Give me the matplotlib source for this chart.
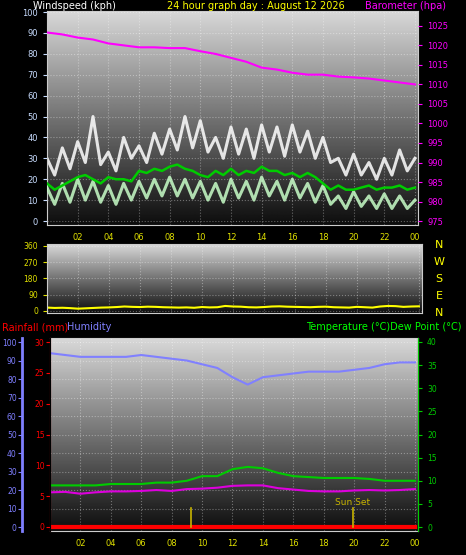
import numpy as np
import matplotlib.pyplot as plt

W, H = 466, 555

# --- data ---
hours = list(range(25))
half_hours = [i * 0.5 for i in range(49)]
tick_hours = [2, 4, 6, 8, 10, 12, 14, 16, 18, 20, 22, 24]
tick_labels = ["02", "04", "06", "08", "10", "12", "14", "16", "18", "20", "22", "00"]

gust = [30, 22, 35, 25, 38, 28, 50, 27, 33, 24, 40, 30, 36, 28, 42, 32, 44, 34, 50, 35,
        48, 33, 40, 30, 45, 32, 44, 30, 46, 33, 45, 31, 46, 33, 43, 30, 40, 28, 30, 22,
        32, 22, 28, 20, 30, 22, 34, 24, 30]
wind = [16, 8, 18, 9, 20, 10, 19, 9, 17, 8, 18, 10, 19, 11, 20, 12, 21, 12, 20, 11,
        19, 10, 18, 9, 20, 11, 19, 10, 21, 12, 19, 10, 20, 11, 18, 9, 17, 8, 12, 6,
        14, 7, 12, 6, 13, 6, 12, 6, 10]
wind_avg = [18, 15, 17, 19, 21, 22, 20, 18, 21, 20, 20, 19, 24, 23, 25, 24, 26, 27, 25, 24,
            22, 21, 24, 22, 25, 22, 24, 23, 26, 24, 24, 22, 23, 21, 23, 21, 18, 15, 17, 15,
            15, 16, 17, 15, 16, 16, 17, 15, 16]
baro = [1023.3, 1022.8, 1022, 1021.5, 1020.5, 1020, 1019.5, 1019.5, 1019.3, 1019.3, 1018.5,
        1017.8, 1016.8, 1015.8, 1014.3, 1013.8, 1013, 1012.5, 1012.5, 1012, 1011.8, 1011.5,
        1011, 1010.5, 1010]
wdir = [18, 16, 17, 15, 12, 14, 16, 18, 19, 21, 24, 22, 21, 23, 22, 20, 19, 18, 19, 17,
        21, 19, 20, 27, 24, 23, 20, 19, 21, 24, 25, 23, 22, 21, 20, 22, 23, 20, 19, 18,
        22, 20, 18, 24, 27, 26, 22, 24, 25]
humidity = [94, 93, 92, 92, 92, 92, 93, 92, 91, 90, 88, 86, 81, 77, 81, 82, 83, 84, 84, 84,
            85, 86, 88, 89, 89]
temp = [9, 9, 9, 9, 9.3, 9.3, 9.3, 9.6, 9.6, 10, 11, 11, 12.5, 13, 12.7, 11.7, 11, 10.8,
        10.6, 10.6, 10.6, 10.4, 10, 10, 10]
dew = [7.5, 7.6, 7.2, 7.5, 7.7, 7.7, 7.8, 8, 7.8, 8.2, 8.3, 8.5, 8.9, 9, 9, 8.4, 8.1, 7.8,
       7.7, 7.7, 7.9, 8, 7.9, 8, 8.2]
rain = [0] * 25
sun_marks = [9.3, 19.9]

fig = plt.figure(figsize=(W / 100, H / 100), dpi=100, facecolor="black")


def box(l, t, r, b):
    return [l / W, 1 - b / H, (r - l) / W, (b - t) / H]


def gradient(ax):
    g = np.linspace(0.85, 0.05, 256).reshape(-1, 1)
    ax.imshow(g, cmap="gray", vmin=0, vmax=1, aspect="auto", extent=[0, 1, 0, 1],
              transform=ax.transAxes, zorder=0)


def hour_axis(ax, labels=True):
    ax.set_xlim(0, 24.2)
    ax.set_xticks(tick_hours)
    ax.set_xticklabels(tick_labels, color="#e0e000", fontsize=6)
    ax.tick_params(axis="x", colors="#e0e000", labelsize=6, length=0, pad=6,
                   labelbottom=labels)
    ax.grid(True, color="white", alpha=0.35, linestyle=":", linewidth=0.8)
    for s in ax.spines.values():
        s.set_color("#cccccc")


# --- top: wind + barometer ---
ax1 = fig.add_axes(box(47, 11, 418, 225))
ax1.set_facecolor("black")
gradient(ax1)
hour_axis(ax1)
ax1.set_ylim(-1.9, 100.5)
ax1.set_yticks(range(0, 101, 10))
ax1.tick_params(axis="y", colors="#c8dcff", labelsize=6, length=3)
ax1.plot(half_hours, gust, color="white", lw=2.2, alpha=0.85, zorder=2)
ax1.plot(half_hours, wind, color="#c8ffc8", lw=2.2, alpha=0.85, zorder=3)
ax1.plot(half_hours, wind_avg, color="#00cc00", lw=1.8, zorder=4)
ax1b = ax1.twinx()
ax1b.set_ylim(974, 1028.8)
ax1b.set_yticks(range(975, 1026, 5))
ax1b.tick_params(axis="y", colors="#ff00ff", labelsize=6, length=3)
ax1b.plot(hours, baro, color="#ff00ff", lw=1.5)
for s in ax1b.spines.values():
    s.set_visible(False)

fig.text(33 / W, 1 - 6 / H, "Windspeed (kph)", color="white", fontsize=7, va="center")
fig.text(256 / W, 1 - 6 / H, "24 hour graph day : August 12 2026", color="#ffff00",
         fontsize=7, va="center", ha="center")
fig.text(446 / W, 1 - 6 / H, "Barometer (hpa)", color="#ff00ff", fontsize=7,
         va="center", ha="right")

# --- middle: wind direction ---
ax2 = fig.add_axes(box(47, 244, 422, 313))
ax2.set_facecolor("black")
gradient(ax2)
hour_axis(ax2, labels=False)
ax2.set_ylim(-12, 370)
ax2.set_yticks([0, 90, 180, 270, 360])
ax2.tick_params(axis="y", colors="#e0e000", labelsize=5.5, length=3)
ax2.plot(half_hours, wdir, color="#ffff00", lw=1.5)
for i, d in enumerate(["N", "W", "S", "E", "N"]):
    fig.text(439 / W, 1 - (245 + i * 17) / H, d, color="#ffff00", fontsize=8,
             ha="center", va="center")

# --- bottom: humidity, rain, temperature ---
ax3 = fig.add_axes(box(50, 338, 418, 531))
ax3.set_facecolor("black")
gradient(ax3)
hour_axis(ax3)
ax3.set_ylim(-2.16, 102.2)
ax3.set_yticks(range(0, 101, 10))
ax3.spines["left"].set_position(("outward", 20))
ax3.spines["left"].set_color("#7f7fff")
ax3.spines["left"].set_linewidth(2)
ax3.tick_params(axis="y", colors="#7f7fff", labelsize=5.5, length=3, pad=1)
ax3.plot(hours, humidity, color="#8080ff", lw=1.5, zorder=3)

ax3r = ax3.twinx()
ax3r.yaxis.tick_left()
ax3r.set_ylim(-0.65, 30.65)
ax3r.set_yticks(range(0, 31, 5))
ax3r.tick_params(axis="y", colors="#ff0000", labelsize=5.5, length=3, pad=1)
ax3r.spines["left"].set_color("#ff0000")
ax3r.plot(hours, rain, color="#ff0000", lw=3)
for x in sun_marks:
    ax3r.plot([x, x], [0, 3], color="#c8b400", lw=1.2)
ax3r.text(19.9, 3.6, "Sun Set", color="#c8b400", fontsize=6.5, ha="center")

ax3t = ax3.twinx()
ax3t.set_ylim(-0.86, 40.86)
ax3t.set_yticks(range(0, 41, 5))
ax3t.tick_params(axis="y", colors="#00cc00", labelsize=5.5, length=3)
ax3t.spines["right"].set_color("#00cc00")
ax3t.plot(hours, temp, color="#00cc00", lw=1.5)
ax3t.plot(hours, dew, color="#dd00dd", lw=1.5)
for a in (ax3r, ax3t):
    a.spines["top"].set_visible(False)
    a.spines["bottom"].set_visible(False)

fig.text(2 / W, 1 - 327 / H, "Rainfall (mm)", color="#ff0000", fontsize=7, va="center")
fig.text(67 / W, 1 - 327 / H, "Humidity", color="#8080ff", fontsize=7, va="center")
fig.text(462 / W, 1 - 327 / H, "Temperature (\u00b0C)Dew Point (\u00b0C)", color="#00ff00",
         fontsize=7, va="center", ha="right")

fig.savefig("out.png", dpi=100, facecolor="black")
